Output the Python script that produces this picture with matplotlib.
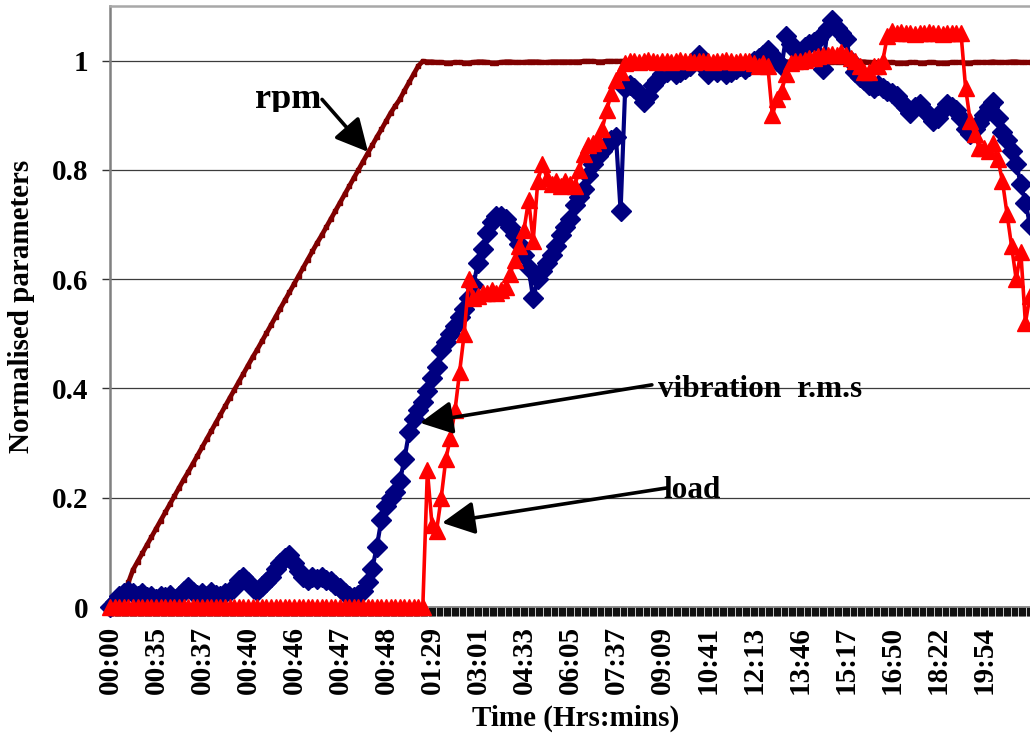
import matplotlib
matplotlib.use("Agg")
import matplotlib.pyplot as plt
from matplotlib.ticker import MultipleLocator, FixedLocator, FixedFormatter
from matplotlib.transforms import Bbox, TransformedBbox

# Category-axis labels (one every 10 samples)
time_labels = ["00:00", "00:35", "00:37", "00:40", "00:46", "00:47", "00:48",
               "01:29", "03:01", "04:33", "06:05", "07:37", "09:09", "10:41",
               "12:13", "13:46", "15:17", "16:50", "18:22", "19:54"]
label_step = 10

# Normalised speed
rpm = [
    0.0, 0.005, 0.012, 0.022, 0.045, 0.068, 0.083, 0.098, 0.113, 0.128,
    0.143, 0.158, 0.173, 0.188, 0.203, 0.218, 0.233, 0.247, 0.262, 0.277,
    0.292, 0.307, 0.322, 0.337, 0.352, 0.367, 0.382, 0.397, 0.412, 0.427,
    0.442, 0.457, 0.471, 0.486, 0.501, 0.516, 0.531, 0.546, 0.561, 0.576,
    0.591, 0.606, 0.621, 0.636, 0.651, 0.666, 0.680, 0.695, 0.710, 0.725,
    0.740, 0.755, 0.770, 0.785, 0.800, 0.815, 0.830, 0.845, 0.860, 0.874,
    0.889, 0.904, 0.917, 0.929, 0.945, 0.960, 0.975, 0.990, 0.999, 0.998,
    0.998, 0.997, 0.997, 0.996, 0.996, 0.997, 0.997, 0.996, 0.996, 0.997,
    0.998, 0.998, 0.997, 0.996, 0.996, 0.997, 0.998, 0.998, 0.997, 0.997,
    0.997, 0.998, 0.998, 0.998, 0.997, 0.997, 0.998, 0.998, 0.998, 0.998,
    0.998, 0.998, 0.998, 0.999, 0.999, 0.999, 0.998, 0.998, 0.999, 0.999,
    0.999, 0.999, 0.999, 0.999, 0.999, 0.998, 0.998, 0.999, 0.999, 0.999,
    0.999, 0.998, 0.998, 0.998, 0.999, 0.999, 0.998, 0.998, 0.998, 0.998,
    0.998, 0.998, 0.999, 0.999, 0.998, 0.998, 0.998, 0.998, 0.999, 0.999,
    0.999, 0.998, 0.998, 0.998, 0.998, 0.999, 0.999, 0.998, 0.998, 0.998,
    0.998, 0.998, 0.998, 0.997, 0.997, 0.998, 0.998, 0.998, 0.998, 0.998,
    0.997, 0.997, 0.997, 0.998, 0.998, 0.997, 0.997, 0.996, 0.996, 0.997,
    0.997, 0.996, 0.996, 0.996, 0.997, 0.997, 0.996, 0.996, 0.997, 0.997,
    0.996, 0.996, 0.996, 0.997, 0.997, 0.997, 0.996, 0.996, 0.997, 0.997,
    0.997, 0.997, 0.998, 0.997, 0.997, 0.997, 0.998, 0.998, 0.997, 0.997,
    0.997,
]

# Normalised vibration r.m.s
vibration = [
    0.0, 0.01, 0.02, 0.025, 0.03, 0.025, 0.02, 0.025, 0.018, 0.02,
    0.015, 0.02, 0.018, 0.022, 0.015, 0.02, 0.03, 0.036, 0.028, 0.022,
    0.025, 0.02, 0.028, 0.022, 0.02, 0.025, 0.03, 0.035, 0.05, 0.055,
    0.045, 0.035, 0.03, 0.038, 0.045, 0.055, 0.07, 0.08, 0.09, 0.095,
    0.08, 0.065, 0.055, 0.05, 0.055, 0.052, 0.055, 0.05, 0.048, 0.04,
    0.035, 0.025, 0.02, 0.018, 0.022, 0.03, 0.045, 0.07, 0.11, 0.16,
    0.185, 0.2, 0.21, 0.23, 0.27, 0.32, 0.345, 0.36, 0.375, 0.395,
    0.42, 0.44, 0.47, 0.485, 0.5, 0.515, 0.53, 0.545, 0.565, 0.59,
    0.63, 0.655, 0.685, 0.705, 0.715, 0.715, 0.71, 0.695, 0.68, 0.665,
    0.645, 0.62, 0.565, 0.6, 0.615, 0.63, 0.645, 0.66, 0.68, 0.695,
    0.71, 0.735, 0.75, 0.765, 0.79, 0.81, 0.825, 0.835, 0.845, 0.855,
    0.86, 0.725, 0.95, 0.955, 0.95, 0.94, 0.925, 0.935, 0.955, 0.965,
    0.975, 0.98, 0.985, 0.975, 0.98, 0.985, 0.99, 1.0, 1.01, 0.99,
    0.975, 0.985, 0.98, 0.985, 0.975, 0.98, 0.985, 0.99, 0.985, 0.99,
    1.0, 1.005, 1.01, 1.02, 1.01, 1.0, 0.99, 1.045, 1.03, 1.02,
    1.015, 1.025, 1.03, 1.035, 1.04, 0.985, 1.06, 1.075, 1.06, 1.05,
    1.04, 1.0, 0.98, 0.97, 0.965, 0.955, 0.95, 0.955, 0.95, 0.945,
    0.94, 0.935, 0.925, 0.915, 0.905, 0.915, 0.92, 0.91, 0.9, 0.89,
    0.895, 0.91, 0.92, 0.915, 0.91, 0.895, 0.875, 0.865, 0.875, 0.885,
    0.9, 0.915, 0.925, 0.895, 0.87, 0.855, 0.835, 0.81, 0.775, 0.74,
    0.7,
]

# Normalised load
load = [
    0.0, 0.0, 0.0, 0.0, 0.0, 0.0, 0.0, 0.0, 0.0, 0.0,
    0.0, 0.0, 0.0, 0.0, 0.0, 0.0, 0.0, 0.0, 0.0, 0.0,
    0.0, 0.0, 0.0, 0.0, 0.0, 0.0, 0.0, 0.0, 0.0, 0.0,
    0.0, 0.0, 0.0, 0.0, 0.0, 0.0, 0.0, 0.0, 0.0, 0.0,
    0.0, 0.0, 0.0, 0.0, 0.0, 0.0, 0.0, 0.0, 0.0, 0.0,
    0.0, 0.0, 0.0, 0.0, 0.0, 0.0, 0.0, 0.0, 0.0, 0.0,
    0.0, 0.0, 0.0, 0.0, 0.0, 0.0, 0.0, 0.0, 0.0, 0.25,
    0.15, 0.14, 0.2, 0.27, 0.31, 0.36, 0.43, 0.5, 0.6, 0.565,
    0.57, 0.575, 0.575, 0.58, 0.575, 0.58, 0.585, 0.61, 0.635, 0.66,
    0.69, 0.745, 0.67, 0.78, 0.81, 0.785, 0.775, 0.78, 0.77, 0.78,
    0.775, 0.77, 0.8, 0.83, 0.845, 0.85, 0.855, 0.875, 0.91, 0.94,
    0.965, 0.98, 0.995, 1.0, 1.0, 0.998, 1.0, 1.002, 1.0, 0.998,
    1.0, 1.0, 0.998, 1.0, 1.002, 1.0, 1.0, 0.998, 1.0, 1.0,
    1.0, 0.998, 1.0, 1.0, 1.002, 1.0, 0.998, 1.0, 1.0, 1.0,
    0.995, 0.99, 0.995, 0.99, 0.9, 0.93, 0.945, 0.975, 0.995, 1.0,
    1.0, 1.002, 1.005, 1.005, 1.008, 1.01, 1.01, 1.012, 1.01, 1.015,
    1.01, 1.005, 1.0, 0.99, 0.98, 0.98, 0.99, 0.99, 1.0, 1.045,
    1.055, 1.05, 1.052, 1.05, 1.05, 1.048, 1.05, 1.05, 1.052, 1.05,
    1.05, 1.048, 1.05, 1.05, 1.05, 1.05, 0.95, 0.89, 0.865, 0.84,
    0.84, 0.835, 0.85, 0.82, 0.78, 0.72, 0.66, 0.6, 0.65, 0.52,
    0.57,
]

plt.rcParams["font.family"] = ["Liberation Serif", "DejaVu Serif"]
plt.rcParams["font.weight"] = "bold"
plt.rcParams["font.size"] = 21

fig = plt.figure(figsize=(10.30, 7.36), dpi=100)
ax = fig.add_axes([110 / 1030, 129 / 736, 920 / 1030, 601 / 736])

samples = list(range(len(rpm)))

ax.plot(samples, rpm, color="#800000", lw=3.4, marker="s", ms=2.8,
        mec="#800000", mfc="#800000", zorder=3, clip_on=False)
ax.plot(samples, vibration, color="#000080", lw=3.0, marker="D", ms=10.5,
        mec="#000080", mfc="#000080", zorder=4, clip_on=False)
ax.plot(samples, load, color="#FF0000", lw=2.6, marker="^", ms=11,
        mec="#FF0000", mfc="#FF0000", zorder=5, clip_on=False)

ax.set_xlim(0, len(rpm) - 1)
ax.set_ylim(0, 1.1)

# y axis
yt = [0, 0.2, 0.4, 0.6, 0.8, 1.0]
ax.yaxis.set_major_locator(FixedLocator(yt))
ax.yaxis.set_major_formatter(FixedFormatter(["0", "0.2", "0.4", "0.6", "0.8", "1"]))
ax.tick_params(axis="y", direction="out", length=5.5, width=1.0,
               color="#333333", pad=10, labelsize=21)
ax.yaxis.grid(True, color="#3c3c3c", lw=0.9)
ax.set_axisbelow(True)

# category x axis: a tick at every sample step, labels every 10th
xt = [i * label_step for i in range(len(time_labels))]
ax.xaxis.set_major_locator(FixedLocator(xt))
ax.xaxis.set_major_formatter(FixedFormatter(time_labels))
ax.xaxis.set_minor_locator(MultipleLocator(0.25))
ax.tick_params(axis="x", which="both", direction="out", length=6.5,
               width=0.9, color="#111111")
ax.tick_params(axis="x", which="major", pad=7, labelsize=21,
               labelrotation=90)

ax.spines["right"].set_visible(False)
ax.spines["left"].set_color("#808080")
ax.spines["left"].set_linewidth(1.8)
ax.spines["bottom"].set_color("#808080")
ax.spines["bottom"].set_linewidth(1.2)
ax.spines["top"].set_color("#a8a8a8")
ax.spines["top"].set_linewidth(1.8)

fig.text(22 / 1030, 1 - 306 / 736, "Normalised parameters", rotation=90,
         ha="center", va="center", fontsize=21, fontweight="bold")
fig.text(576 / 1030, 1 - 718 / 736, "Time (Hrs:mins)", ha="center",
         va="center", fontsize=21, fontweight="bold")

arrow = dict(arrowstyle="-|>,head_length=0.55,head_width=0.28",
             mutation_scale=36, lw=2.6, color="black", shrinkA=0, shrinkB=0)

# annotations: label text plus arrow pointing at the series
t = ax.text(31.5, 0.914, "rpm", ha="left", va="baseline", fontsize=26,
            fontweight="bold", zorder=6)
t.set_clip_box(TransformedBbox(Bbox([[0, 1 - 112 / 736], [1, 1]]),
                               fig.transFigure))
t.set_clip_on(True)
ax.annotate("", xy=(56.1, 0.833), xytext=(46.1, 0.929), arrowprops=arrow,
            zorder=6)

ax.text(119.1, 0.3846, "vibration  r.m.s", ha="left", va="baseline",
        fontsize=22.5, fontweight="bold", zorder=6)
ax.annotate("", xy=(67.4, 0.337), xytext=(117.8, 0.4066), arrowprops=arrow,
            zorder=6)

ax.text(120.2, 0.1996, "load", ha="left", va="baseline", fontsize=22.5,
        fontweight="bold", zorder=6)
ax.annotate("", xy=(72.2, 0.154), xytext=(121.1, 0.218), arrowprops=arrow,
            zorder=6)

fig.savefig("out.png", dpi=100)
